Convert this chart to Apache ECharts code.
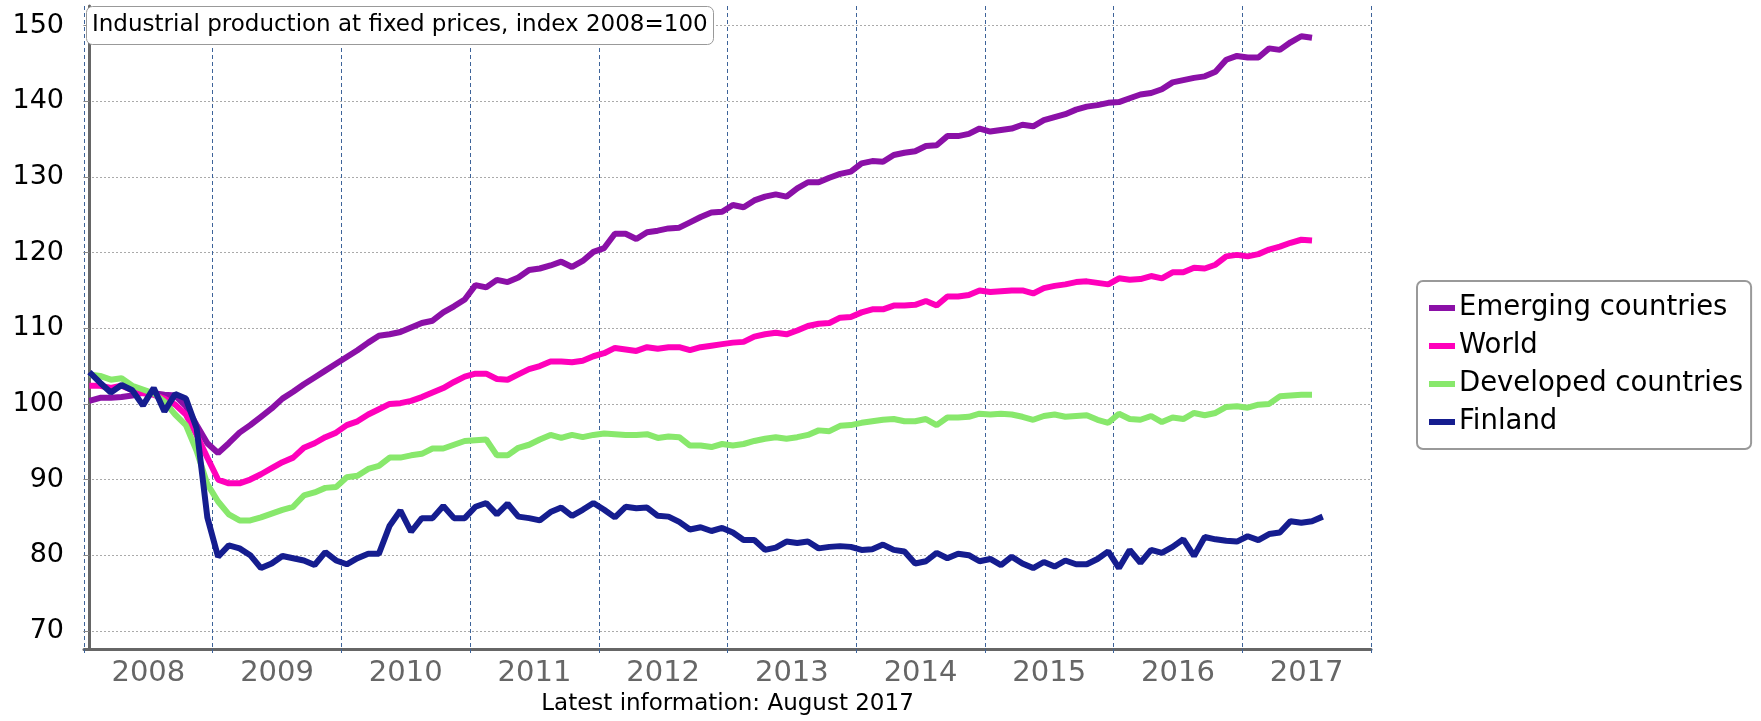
<!DOCTYPE html>
<html>
<head>
<meta charset="utf-8">
<script src="https://cdn.jsdelivr.net/npm/echarts@6/dist/echarts.min.js"></script>
<style>
  html, body { margin: 0; padding: 0; background: #fff; }
  #chart { width: 1761px; height: 721px; }
</style>
</head>
<body>
<div id="chart"></div>
<script>
// monthly index values, Jan 2008 onwards (2008 = 100)
const years = ['2008', '2009', '2010', '2011', '2012', '2013', '2014', '2015', '2016', '2017']
const yTicks = [70, 80, 90, 100, 110, 120, 130, 140, 150]

const emerging = [
  100.4, 100.8, 100.8, 100.9, 101.1, 101.5, 101.4, 101.2, 101.1, 99.7, 97.2, 94.8,
  93.5, 94.8, 96.2, 97.2, 98.3, 99.4, 100.7, 101.6, 102.6, 103.5, 104.4, 105.3,
  106.2, 107.1, 108.1, 109.0, 109.2, 109.5, 110.1, 110.7, 111.0, 112.1, 112.9, 113.8,
  115.7, 115.4, 116.4, 116.1, 116.7, 117.7, 117.9, 118.3, 118.8, 118.1, 118.9, 120.1,
  120.6, 122.5, 122.5, 121.8, 122.7, 122.9, 123.2, 123.3, 124.0, 124.7, 125.3, 125.4,
  126.3, 126.0, 126.9, 127.4, 127.7, 127.4, 128.5, 129.3, 129.3, 129.9, 130.4, 130.7,
  131.8, 132.1, 132.0, 132.9, 133.2, 133.4, 134.1, 134.2, 135.4, 135.4, 135.7, 136.4,
  136.0, 136.2, 136.4, 136.9, 136.7, 137.5, 137.9, 138.3, 138.9, 139.3, 139.5, 139.8,
  139.9, 140.4, 140.9, 141.1, 141.6, 142.5, 142.8, 143.1, 143.3, 143.9, 145.5, 146.0,
  145.8, 145.8, 147.0, 146.8, 147.8, 148.6, 148.4
]
const world = [
  102.4, 102.4, 102.1, 102.4, 101.8, 101.4, 101.2, 100.7, 99.9, 98.6, 95.9, 92.9,
  90.0, 89.5, 89.5, 90.0, 90.7, 91.5, 92.3, 92.9, 94.2, 94.8, 95.6, 96.2,
  97.2, 97.7, 98.6, 99.3, 100.0, 100.1, 100.4, 100.9, 101.5, 102.1, 102.9, 103.6,
  104.0, 104.0, 103.3, 103.2, 103.9, 104.6, 105.0, 105.6, 105.6, 105.5, 105.7, 106.3,
  106.7, 107.4, 107.2, 107.0, 107.5, 107.3, 107.5, 107.5, 107.1, 107.5, 107.7, 107.9,
  108.1, 108.2, 108.9, 109.2, 109.4, 109.2, 109.7, 110.3, 110.6, 110.7, 111.4, 111.5,
  112.1, 112.5, 112.5, 113.0, 113.0, 113.1, 113.6, 113.0, 114.2, 114.2, 114.4, 115.0,
  114.8, 114.9, 115.0, 115.0, 114.6, 115.3, 115.6, 115.8, 116.1, 116.2, 116.0, 115.8,
  116.6, 116.4, 116.5, 116.9, 116.6, 117.4, 117.4, 118.0, 117.9, 118.4, 119.5, 119.7,
  119.5, 119.8, 120.4, 120.8, 121.3, 121.7, 121.6
]
const developed = [
  103.9, 103.7, 103.2, 103.4, 102.4, 101.9, 101.4, 100.3, 98.6, 97.2, 93.8, 89.4,
  87.1, 85.4, 84.6, 84.6, 85.0, 85.5, 86.0, 86.4, 87.9, 88.3, 88.9, 89.0,
  90.3, 90.5, 91.4, 91.8, 92.9, 92.9, 93.2, 93.4, 94.1, 94.1, 94.6, 95.1,
  95.2, 95.3, 93.2, 93.2, 94.2, 94.6, 95.3, 95.9, 95.5, 95.9, 95.6, 95.9,
  96.1, 96.0, 95.9, 95.9, 96.0, 95.5, 95.7, 95.6, 94.5, 94.5, 94.3, 94.7,
  94.5, 94.7, 95.1, 95.4, 95.6, 95.4, 95.6, 95.9, 96.5, 96.4, 97.1, 97.2,
  97.5, 97.7, 97.9, 98.0, 97.7, 97.7, 98.0, 97.2, 98.2, 98.2, 98.3, 98.7,
  98.6, 98.7, 98.6, 98.3, 97.9, 98.4, 98.6, 98.3, 98.4, 98.5, 97.9, 97.5,
  98.7, 98.0, 97.9, 98.4, 97.6, 98.2, 98.0, 98.8, 98.5, 98.8, 99.6, 99.7,
  99.5, 99.9, 100.0, 101.0, 101.1, 101.2, 101.2
]
const finland = [
  104.2, 102.8, 101.5, 102.5, 101.8, 99.8, 102.1, 99.0, 101.3, 100.7, 96.8, 85.0,
  79.8, 81.3, 80.9, 80.0, 78.3, 78.9, 79.9, 79.6, 79.3, 78.7, 80.4, 79.3,
  78.8, 79.6, 80.2, 80.2, 83.9, 85.9, 83.1, 84.9, 84.9, 86.5, 84.9, 84.9,
  86.4, 86.9, 85.4, 86.8, 85.1, 84.9, 84.6, 85.7, 86.3, 85.2, 86.0, 86.9,
  86.0, 85.0, 86.4, 86.2, 86.3, 85.2, 85.1, 84.4, 83.4, 83.7, 83.2, 83.6,
  83.0, 82.0, 82.0, 80.7, 81.0, 81.8, 81.6, 81.8, 80.9, 81.1, 81.2, 81.1,
  80.7, 80.8, 81.4, 80.7, 80.5, 78.9, 79.2, 80.3, 79.6, 80.2, 80.0, 79.2,
  79.5, 78.7, 79.8, 78.9, 78.3, 79.1, 78.5, 79.3, 78.8, 78.8, 79.5, 80.5,
  78.3, 80.7, 79.0, 80.7, 80.3, 81.1, 82.1, 79.9, 82.4, 82.1, 81.9, 81.8,
  82.5, 82.0, 82.8, 83.0, 84.5, 84.3, 84.5, 85.1
]

const chart = echarts.init(document.getElementById('chart'))

// month i sits in the middle of its slot, year borders at 11.5, 23.5, ...
const yearEdges = years.map((y, k) => k * 12 - 0.5).concat([years.length * 12 - 0.5])
const yearMids = years.map((y, k) => k * 12 + 5.5)
const toPairs = arr => arr.map((v, i) => [i, v])

const mkSeries = (name, data, color) => ({
  name,
  type: 'line',
  data: toPairs(data),
  showSymbol: false,
  lineStyle: { width: 6, color },
  itemStyle: { color }
})

const option = {
  animation: false,
  textStyle: { fontFamily: 'DejaVu Sans' },
  title: {
    text: 'Industrial production at fixed prices, index 2008=100',
    left: 86,
    top: 6,
    padding: [8, 6, 8, 6],
    backgroundColor: '#fff',
    borderColor: '#999',
    borderWidth: 1,
    borderRadius: 6,
    textStyle: { fontSize: 23, fontWeight: 'normal', color: '#000', fontFamily: 'DejaVu Sans' }
  },
  legend: {
    orient: 'vertical',
    left: 1417,
    top: 281,
    padding: [12, 8, 12, 12],
    itemGap: 8,
    itemWidth: 26,
    itemHeight: 6,
    icon: 'rect',
    borderColor: '#999',
    borderWidth: 2,
    borderRadius: 6,
    textStyle: { fontSize: 27.5, color: '#000', lineHeight: 30, padding: [0, 0, 0, -1] },
    data: ['Emerging countries', 'World', 'Developed countries', 'Finland']
  },
  grid: { left: 84, right: 390, top: 6, bottom: 68, containLabel: false },
  xAxis: {
    type: 'value',
    min: -0.5,
    max: 119.5,
    name: 'Latest information: August 2017',
    nameLocation: 'middle',
    nameGap: 44,
    nameTextStyle: { fontSize: 23, color: '#000' },
    axisLine: { lineStyle: { color: '#666', width: 3 } },
    axisTick: {
      customValues: yearEdges,
      length: 5,
      lineStyle: { color: '#3d6399', width: 1, type: [4, 3] }
    },
    axisLabel: {
      customValues: yearMids,
      formatter: v => years[Math.round((v - 5.5) / 12)],
      fontSize: 29,
      color: '#666',
      margin: 10
    },
    splitLine: { show: true, lineStyle: { color: '#3d6399', width: 1, type: [4, 3] } }
  },
  yAxis: {
    type: 'value',
    min: 67.6,
    max: 152.6,
    axisLine: { show: true, lineStyle: { color: '#666', width: 3 } },
    axisTick: { show: true, customValues: yTicks, length: 6, lineStyle: { color: '#888' } },
    axisLabel: { customValues: yTicks, fontSize: 27, color: '#000', margin: 20 },
    splitLine: { show: true, lineStyle: { color: '#aaa', width: 1, type: [2, 2] } }
  },
  series: [
    mkSeries('Emerging countries', emerging, '#8b10a7'),
    mkSeries('World', world, '#ff00bb'),
    mkSeries('Developed countries', developed, '#88e86c'),
    mkSeries('Finland', finland, '#151d8f')
  ]
}

chart.setOption(option)
window.addEventListener('resize', () => chart.resize())
</script>
</body>
</html>
